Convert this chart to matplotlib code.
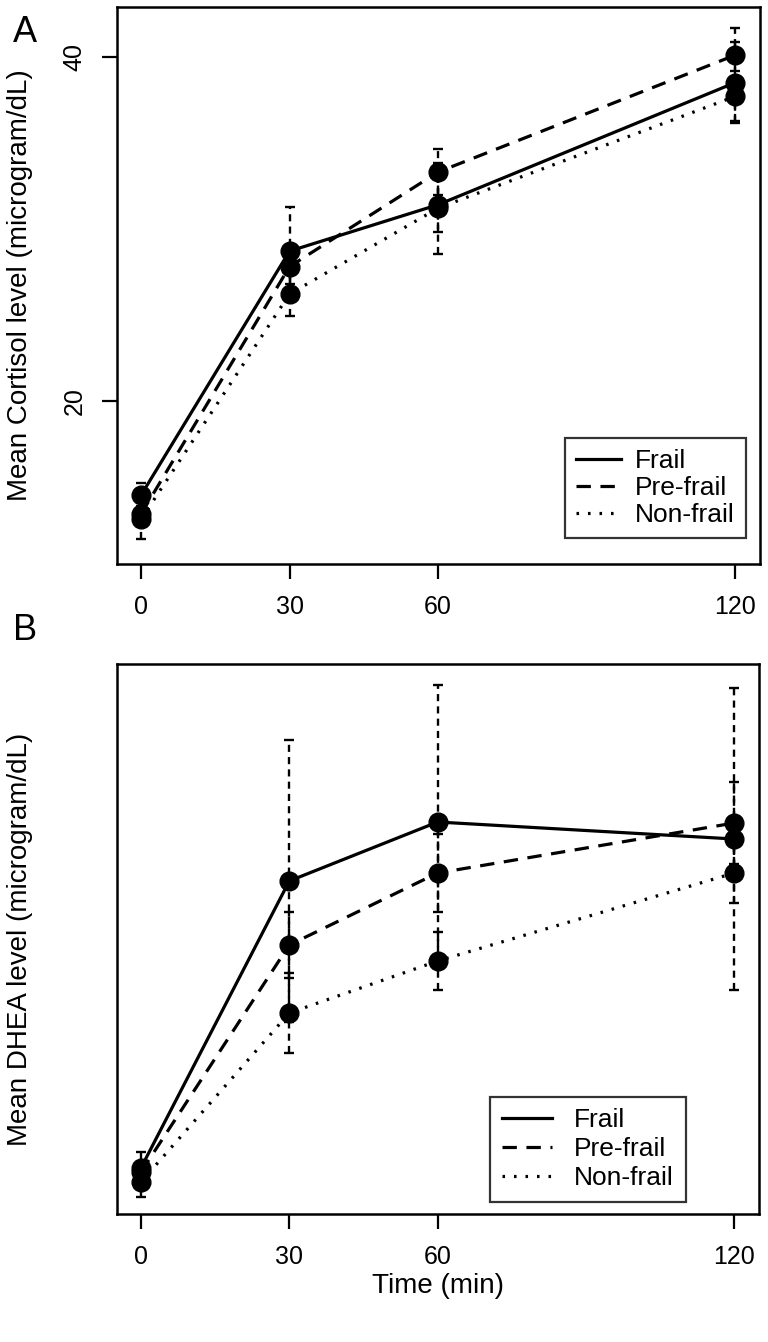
import matplotlib
matplotlib.use("Agg")
import matplotlib.pyplot as plt
import numpy as np

plt.rcParams['font.family'] = ['Liberation Sans', 'DejaVu Sans']

times = [0, 30, 60, 120]
groups = ["Frail", "Pre-frail", "Non-frail"]

# Panel A: cortisol (microgram/dL)
cort_mean = {
    "Frail":     [14.5, 28.7, 31.4, 38.5],
    "Pre-frail": [13.4, 27.8, 33.3, 40.1],
    "Non-frail": [13.1, 26.2, 31.2, 37.7],
}
cort_se = {
    "Frail":     [0.7, 2.55, 1.6, 2.35],
    "Pre-frail": [0.5, 1.0, 1.35, 1.6],
    "Non-frail": [1.15, 1.3, 2.65, 1.45],
}

# Panel B: DHEA (arbitrary units, no y scale shown)
dhea_mean = {
    "Frail":     [4.4, 33.1, 39.0, 37.3],
    "Pre-frail": [4.0, 26.7, 33.9, 38.9],
    "Non-frail": [3.0, 19.9, 25.1, 33.9],
}
dhea_se = {
    "Frail":     [1.6, 14.1, 13.7, 15.1],
    "Pre-frail": [1.0, 3.3, 3.9, 4.1],
    "Non-frail": [1.5, 4.0, 2.9, 3.0],
}

styles = {
    "Frail": dict(linestyle='-'),
    "Pre-frail": dict(dashes=(4.5, 3)),
    "Non-frail": dict(dashes=(0.8, 2.8)),
}

fig = plt.figure(figsize=(7.68, 13.42), dpi=100)
axA = fig.add_axes([0.1523, 0.5797, 0.8372, 0.4151])
axB = fig.add_axes([0.1523, 0.0954, 0.8360, 0.4098])

def draw(ax, means, ses):
    for g in groups:
        eb = ax.errorbar(times, means[g], yerr=ses[g], fmt='none', ecolor='black',
                         elinewidth=1.7, capsize=3.5, capthick=1.7, zorder=2)
        for lc in eb[2]:
            lc.set_linestyle((0, (3, 2.2)))
    handles = []
    for g in groups:
        ax.plot(times, means[g], color='black', lw=2.3, marker='o',
                markersize=13.5, solid_capstyle='butt', zorder=3, **styles[g])
        h, = ax.plot([], [], color='black', lw=2.3, **styles[g])
        handles.append(h)
    for sp in ax.spines.values():
        sp.set_linewidth(1.8)
    ax.set_xlim(-4.85, 125)
    ax.set_xticks(times)
    ax.tick_params(axis='both', direction='out', length=11, width=1.6,
                   labelsize=18, pad=11)
    return handles

def legend(ax, handles, anchor, pad, hlen, htpad, lspace):
    leg = ax.legend(handles, groups, loc='lower right', bbox_to_anchor=anchor,
                    borderaxespad=0, fontsize=19, frameon=True, fancybox=False,
                    edgecolor='black', handlelength=hlen, borderpad=pad,
                    labelspacing=lspace, handletextpad=htpad)
    leg.get_frame().set_linewidth(1.6)
    return leg

hA = draw(axA, cort_mean, cort_se)
axA.set_ylim(10.5, 42.9)
axA.set_yticks([20, 40])
for lab in axA.get_yticklabels():
    lab.set_rotation(90)
    lab.set_va('center')
axA.set_ylabel("Mean Cortisol level (microgram/dL)", fontsize=20)
axA.yaxis.set_label_coords(-0.131, 0.5)
legend(axA, hA, (0.978, 0.047), 0.42, 1.7, 0.53, 0.1)

hB = draw(axB, dhea_mean, dhea_se)
axB.set_ylim(-0.2, 54.8)
axB.set_yticks([])
axB.set_ylabel("Mean DHEA level (microgram/dL)", fontsize=20)
axB.yaxis.set_label_coords(-0.131, 0.5)
axB.set_xlabel("Time (min)", fontsize=20)
axB.xaxis.set_label_coords(0.5, -0.107)
legend(axB, hB, (0.886, 0.022), 0.45, 1.9, 0.83, 0.18)

fig.text(25 / 768, 1 - 33 / 1342, "A", fontsize=26, ha='center', va='center')
fig.text(25 / 768, 1 - 630 / 1342, "B", fontsize=26, ha='center', va='center')

fig.savefig("out.png", dpi=100)
